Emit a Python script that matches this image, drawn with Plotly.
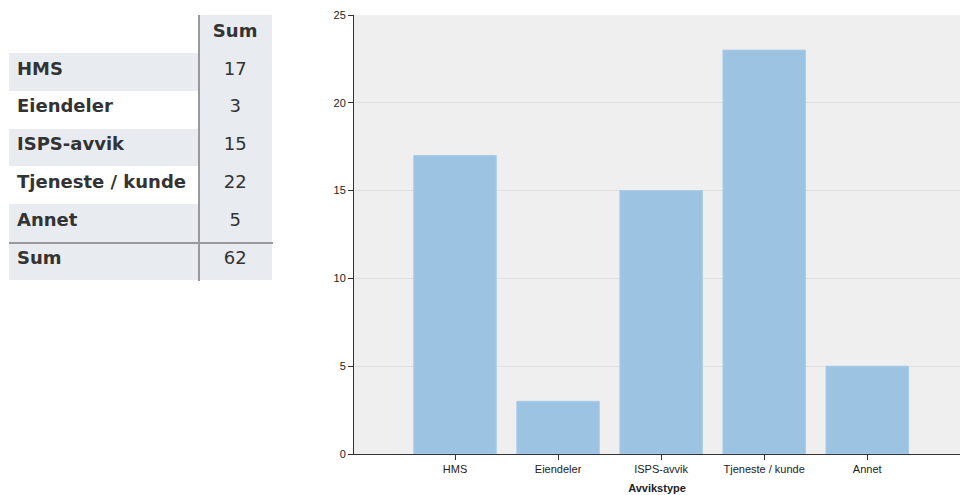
import plotly.graph_objects as go

categories = ["HMS", "Eiendeler", "ISPS-avvik", "Tjeneste / kunde", "Annet"]
bar_values = [17, 3, 15, 23, 5]
table_values = [17, 3, 15, 22, 5]
table_total = 62
y_ticks = [0, 5, 10, 15, 20, 25]

W, H = 960, 495
GRAY = "#e8ebf0"


def fx(px):
    return px / W


def fy(py):
    return 1 - py / H


fig = go.Figure()

# Table
labels = [c.replace(" ", "\u00a0") for c in categories] + ["Sum"]
vals = [str(v) for v in table_values] + [str(table_total)]
col0_fill = [GRAY, "white", GRAY, "white", GRAY, GRAY]
col1_fill = [GRAY] * 6
fig.add_trace(go.Table(
    domain=dict(x=[fx(9), fx(273)], y=[fy(281), fy(15)]),
    columnwidth=[190, 74],
    header=dict(
        values=["", "Sum"],
        fill_color=["white", GRAY],
        align=["left", "center"],
        font=dict(family="DejaVu Sans", size=18, color="#333333", weight="bold"),
        height=38,
        line=dict(width=0, color="rgba(0,0,0,0)"),
    ),
    cells=dict(
        values=[labels, vals],
        fill_color=[col0_fill, col1_fill],
        align=["left", "center"],
        font=dict(family="DejaVu Sans", size=18, color="#333333",
                  weight=["bold", "normal"]),
        height=37.8,
        line=dict(width=0, color="rgba(0,0,0,0)"),
    ),
))

# Bars
fig.add_trace(go.Bar(
    x=categories, y=bar_values, width=0.8,
    marker=dict(color="#9dc3e3", line=dict(width=1, color="#a9cbe8")),
    xaxis="x", yaxis="y", showlegend=False,
))

fig.update_layout(
    width=W, height=H,
    margin=dict(l=0, r=0, t=0, b=0),
    paper_bgcolor="white",
    plot_bgcolor="#efefef",
    font=dict(family="Liberation Sans, Arial", size=11, color="#333333"),
    xaxis=dict(
        domain=[fx(354), 1.0],
        range=[-0.98, 4.9],
        automargin=False,
        showline=True, linecolor="#333333", linewidth=1,
        ticks="outside", ticklen=5, tickcolor="#333333",
        showgrid=False, zeroline=False,
        tickfont=dict(size=11, color="#222222"),
        title=dict(text="<b>Avvikstype</b>", font=dict(size=11, color="#222222"), standoff=10),
    ),
    yaxis=dict(
        domain=[fy(454), fy(15)],
        range=[0, 25],
        automargin=False,
        tickvals=y_ticks,
        showline=True, linecolor="#333333", linewidth=1,
        ticks="outside", ticklen=5, tickcolor="#333333",
        showgrid=True, gridcolor="#e0e0e0", zeroline=False,
        tickfont=dict(size=11, color="#222222"),
    ),
    shapes=[
        dict(type="line", xref="paper", yref="paper",
             x0=fx(199), x1=fx(199), y0=fy(15), y1=fy(281),
             line=dict(color="#999999", width=2)),
        dict(type="line", xref="paper", yref="paper",
             x0=fx(9), x1=fx(273), y0=fy(243), y1=fy(243),
             line=dict(color="#999999", width=2)),
    ],
)

fig.write_html(
    "out.html",
    config={"displayModeBar": False},
    post_script="document.body.style.margin='0';document.body.style.overflow='hidden';",
)
